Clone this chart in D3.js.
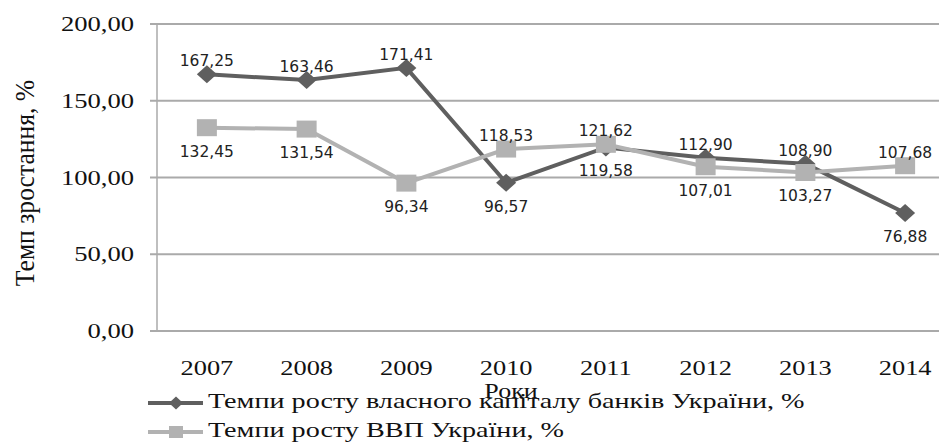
<!DOCTYPE html>
<html>
<head>
<meta charset="utf-8">
<script src="https://cdn.jsdelivr.net/npm/d3@7"></script>
<style>
  body { margin: 0; background: #fff; }
  svg { display: block; }
</style>
</head>
<body>
<svg id="chart" width="939" height="445"></svg>
<script>
var width = 939
var height = 445

// chart data
var years = ["2007", "2008", "2009", "2010", "2011", "2012", "2013", "2014"]
var capital = [167.25, 163.46, 171.41, 96.57, 119.58, 112.90, 108.90, 76.88]
var gdp = [132.45, 131.54, 96.34, 118.53, 121.62, 107.01, 103.27, 107.68]
var yTicks = [0, 50, 100, 150, 200]
// label above (-1) or below (+1) the point
var capitalPos = [-1, -1, -1, 1, 1, -1, -1, 1]
var gdpPos = [1, 1, 1, -1, -1, 1, 1, -1]

var seriesNames = ["Темпи росту власного капіталу банків України, %", "Темпи росту ВВП України, %"]

var fmt = v => v.toFixed(2).replace(".", ",")

const svg = d3.select("svg#chart")

const x = d3.scalePoint().domain(years).range([157, 955]).padding(0.5)
const y = d3.scaleLinear().domain([0, 200]).range([331, 24])

// the picture is stretched sideways, so serif texts get a horizontal scale
function serif(g, tx, ty, size, sx, anchor, txt) {
  return g.append("text")
    .attr("transform", `translate(${tx},${ty}) scale(${sx},1)`)
    .attr("text-anchor", anchor)
    .style("font-family", "'Liberation Serif'")
    .style("font-size", size + "px")
    .attr("fill", "#111")
    .text(txt)
}

// grid
svg.append("g")
  .selectAll("line")
  .data(yTicks)
  .enter().append("line")
    .attr("x1", 150).attr("x2", width)
    .attr("y1", d => y(d)).attr("y2", d => y(d))
    .attr("stroke", "#aaa").attr("stroke-width", 2)

svg.append("line")
  .attr("x1", 157).attr("x2", 157)
  .attr("y1", y(200)).attr("y2", y(0))
  .attr("stroke", "#aaa").attr("stroke-width", 1.5)

// y tick labels
const yl = svg.append("g")
yTicks.forEach(d => serif(yl, 134, y(d) + 7, 20, 1.33, "end", fmt(d)))

// x labels
const xl = svg.append("g")
years.forEach(d => serif(xl, x(d), 375, 22, 1.2, "middle", d))

serif(svg, 511, 398, 20, 1.3, "middle", "Роки")

svg.append("text")
  .attr("transform", "translate(34,183) rotate(-90) scale(1.22,1.3)")
  .attr("text-anchor", "middle")
  .style("font-family", "'Liberation Serif'")
  .style("font-size", "21px")
  .attr("fill", "#111")
  .text("Темп зростання, %")

function diamond(hw, hh) {
  return `M0,${-hh}L${hw},0L0,${hh}L${-hw},0Z`
}
function rect(hw, hh) {
  return `M${-hw},${-hh}H${hw}V${hh}H${-hw}Z`
}

function drawSeries(values, pos, color, marker) {
  const pts = values.map((v, i) => [x(years[i]), y(v)])
  svg.append("path")
    .attr("d", d3.line()(pts))
    .attr("fill", "none")
    .attr("stroke", color)
    .attr("stroke-width", 4)
  svg.append("g")
    .selectAll("path")
    .data(pts)
    .enter().append("path")
      .attr("transform", d => `translate(${d[0]},${d[1]})`)
      .attr("d", marker)
      .attr("fill", color)
  svg.append("g")
    .selectAll("text")
    .data(pts)
    .enter().append("text")
      .attr("x", d => d[0])
      .attr("y", (d, i) => pos[i] < 0 ? d[1] - 8 : d[1] + 29)
      .attr("text-anchor", "middle")
      .style("font-family", "'DejaVu Sans'")
      .style("font-size", "15.5px")
      .attr("fill", "#222")
      .text((d, i) => fmt(values[i]))
}

drawSeries(capital, capitalPos, "#5f5f5f", diamond(10, 9))
drawSeries(gdp, gdpPos, "#b2b2b2", rect(10, 8.5))

// legend
var legendColors = ["#5f5f5f", "#b2b2b2"]
var legendMarks = [diamond(7, 6.5), rect(7, 6)]
const legend = svg.append("g")
  .selectAll("g")
  .data(seriesNames)
  .enter().append("g")
    .attr("transform", (d, i) => `translate(148,${403 + i * 29})`)

legend.append("line")
  .attr("x1", 0).attr("x2", 55)
  .attr("stroke", (d, i) => legendColors[i])
  .attr("stroke-width", 4)
legend.append("path")
  .attr("transform", "translate(28,0)")
  .attr("d", (d, i) => legendMarks[i])
  .attr("fill", (d, i) => legendColors[i])
legend.each(function(d) {
  serif(d3.select(this), 60, 5, 22, 1.28, "start", d)
})
</script>
</body>
</html>
